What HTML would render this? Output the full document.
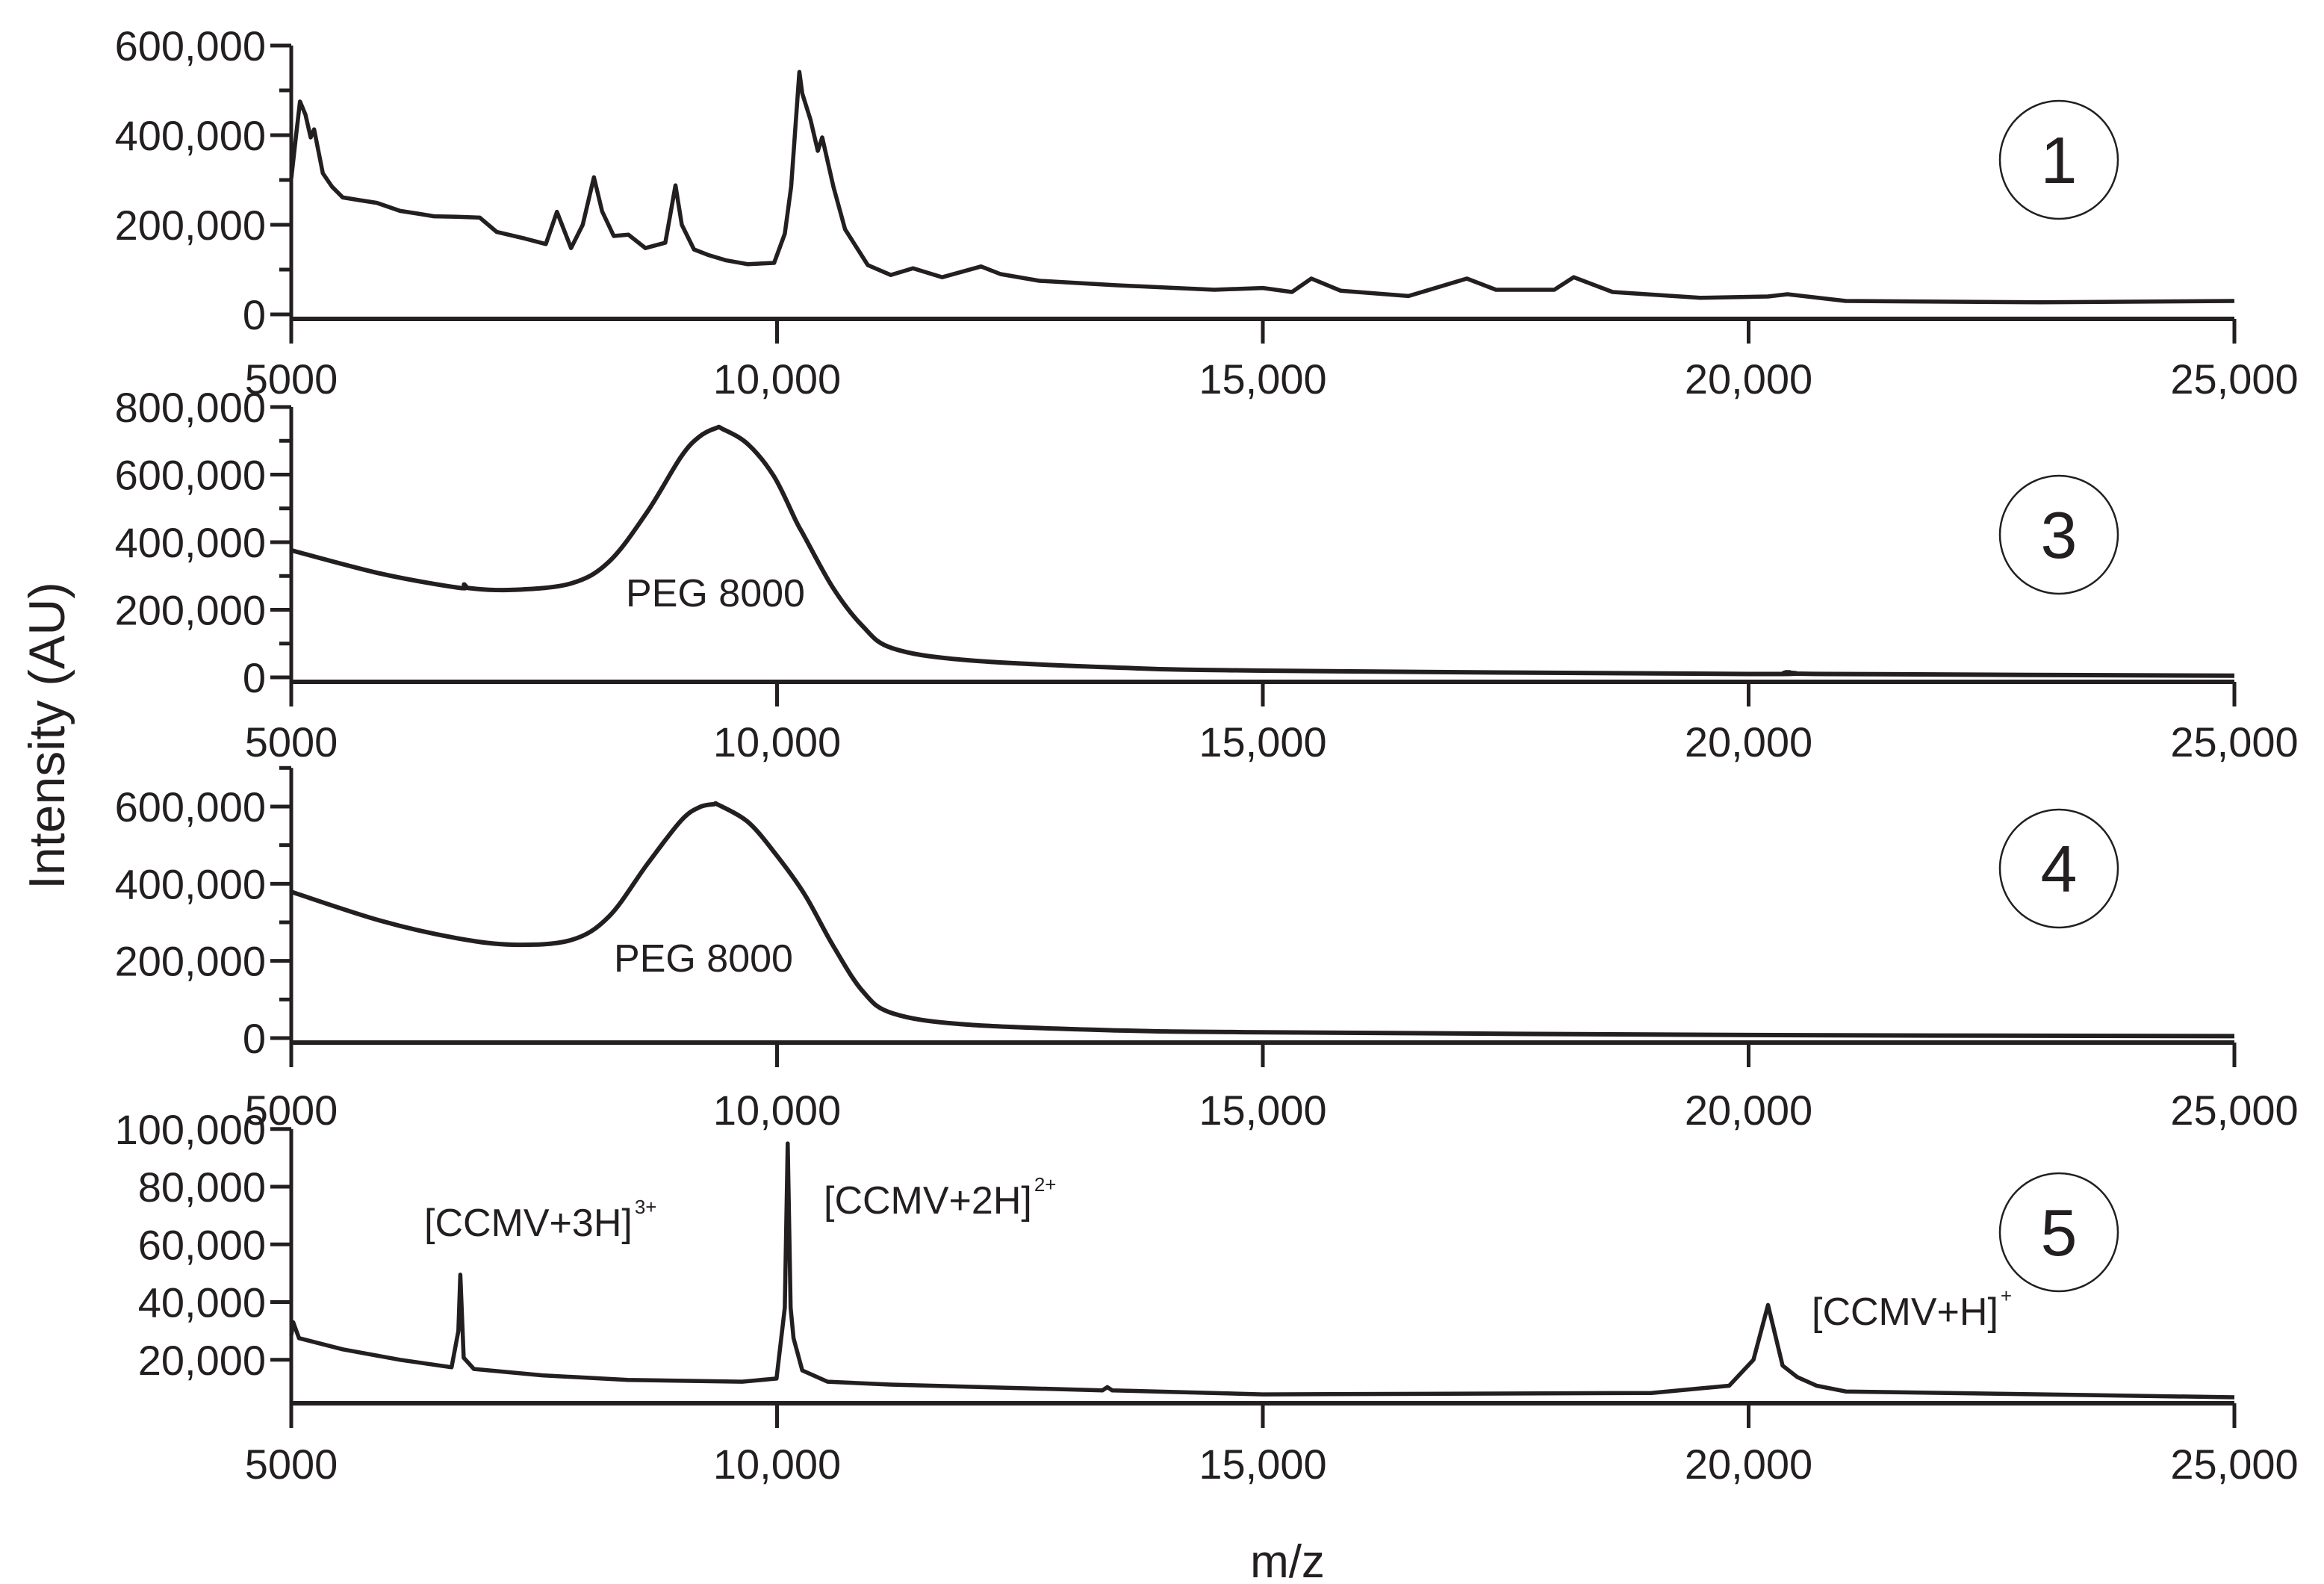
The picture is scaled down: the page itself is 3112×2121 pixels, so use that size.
<!DOCTYPE html>
<html><head><meta charset="utf-8"><style>
html,body{margin:0;padding:0;background:#fff;}
svg{display:block;}
text{font-family:"Liberation Sans",sans-serif;fill:#231f20;}
</style></head><body>
<svg id="chart" width="3112" height="2121" viewBox="0 0 3112 2121" xmlns="http://www.w3.org/2000/svg">
<g id="root"></g>
</svg>
<script>
// x axis (shared)
const xTicks = [5000, 10000, 15000, 20000, 25000];
const xTickLabels = ["5000", "10,000", "15,000", "20,000", "25,000"];

// Panel 1
const p1Mz = [5000,5050,5090,5146,5200,5235,5325,5420,5530,5700,5880,6120,6300,6470,6700,6940,7115,7410,7620,7735,7880,8000,8115,8200,8320,8470,8645,8850,8955,9020,9145,9300,9470,9700,9970,10080,10145,10230,10260,10345,10420,10465,10580,10700,10935,11170,11400,11700,12100,12300,12700,13500,14500,15000,15300,15500,15800,16500,17100,17400,18000,18200,18600,19500,20200,20400,21000,23000,25000];
const p1Val = [303,400,475,446,395,413,315,285,261,255,249,231,225,219,218,216,184,169,157,229,148,200,306,230,175,178,148,160,288,200,145,132,121,112,115,180,285,541,493,434,365,395,285,190,110,88,103,83,107,90,75,65,55,59,50,80,53,41,80,55,55,83,50,37,40,45,30,27,30];
const p1YTicks = [0,200000,400000,600000];
const p1YLabels = ["0","200,000","400,000","600,000"];

// Panel 3
const p3Mz = [5000,5920,6730,6780,6830,7290,7880,8270,8665,9010,9200,9375,9440,9700,9970,10200,10280,10580,10880,11190,11950,13490,15000,20000,20400,20800,25000];
const p3Val = [376,307,265,275,264,259,278,342,490,652,712,738,735,690,594,460,418,263,152,86,51,29,20,10,15,10,5];
const p3YTicks = [0,200000,400000,600000,800000];
const p3YLabels = ["0","200,000","400,000","600,000","800,000"];

// Panel 4
const p4Mz = [5000,5920,6700,7290,7880,8270,8665,9010,9200,9350,9400,9700,9970,10280,10580,10880,11190,11950,13500,15000,20000,25000];
const p4Val = [379,304,259,242,254,315,451,563,598,606,604,560,482,374,238,122,64,35,20,15,8,5];
const p4YTicks = [0,200000,400000,600000];
const p4YLabels = ["0","200,000","400,000","600,000"];

// Panel 5
const p5Mz = [5000,5020,5080,5530,6120,6650,6720,6740,6775,6880,7585,8465,9640,9995,10080,10110,10140,10170,10260,10520,11170,13350,13400,13450,15000,19000,19800,20050,20200,20350,20500,20700,21000,25000];
const p5Val = [28.5,33,27.5,23.6,20,17.4,30,49.5,20.7,16.8,14.6,13,12.4,13.5,38,95,38,27.5,16.3,12.4,11.4,9.4,10.5,9.4,8,8.5,11,20,39,18,14,11,9,7];
const p5YTicks = [20000,40000,60000,80000,100000];
const p5YLabels = ["20,000","40,000","60,000","80,000","100,000"];

const X0 = 390, X1 = 2992;
function xScale(mz){ return X0 + (mz-5000)/(20000)*(X1-X0); }

const NS = "http://www.w3.org/2000/svg";
const root = document.getElementById('root');
function mk(tag, attrs, parent){
  const e = document.createElementNS(NS, tag);
  for (const k in attrs) e.setAttribute(k, attrs[k]);
  (parent||root).appendChild(e);
  return e;
}
function smoothPath(P){
  let d = 'M'+P[0][0].toFixed(1)+','+P[0][1].toFixed(1);
  for (let i=0;i<P.length-1;i++){
    const p0=P[i-1]||P[i], p1=P[i], p2=P[i+1], p3=P[i+2]||P[i+1];
    const t=1/6;
    const c1=[p1[0]+(p2[0]-p0[0])*t, p1[1]+(p2[1]-p0[1])*t];
    const c2=[p2[0]-(p3[0]-p1[0])*t, p2[1]-(p3[1]-p1[1])*t];
    d+=' C'+c1[0].toFixed(1)+','+c1[1].toFixed(1)+' '+c2[0].toFixed(1)+','+c2[1].toFixed(1)+' '+p2[0].toFixed(1)+','+p2[1].toFixed(1);
  }
  return d;
}

const panels = [
  {name:'panel-1', mz:p1Mz, val:p1Val, yTicks:p1YTicks, yLabels:p1YLabels, zeroY:421, pxPerUnit:0.6, axisY:427, topVal:600000, minor:100000, xlabY:527, circ:[2757,214,'1'], smooth:false},
  {name:'panel-3', mz:p3Mz, val:p3Val, yTicks:p3YTicks, yLabels:p3YLabels, zeroY:907, pxPerUnit:0.4525, axisY:913, topVal:800000, minor:100000, xlabY:1013, circ:[2757,716,'3'], smooth:true},
  {name:'panel-4', mz:p4Mz, val:p4Val, yTicks:p4YTicks, yLabels:p4YLabels, zeroY:1390, pxPerUnit:0.5167, axisY:1396, topVal:700000, minor:100000, xlabY:1506, circ:[2757,1163,'4'], smooth:true},
  {name:'panel-5', mz:p5Mz, val:p5Val, yTicks:p5YTicks, yLabels:p5YLabels, zeroY:1898, pxPerUnit:3.8625, axisY:1879, topVal:100000, minor:0, xlabY:1980, circ:[2757,1650,'5'], smooth:false}
];

panels.forEach(p=>{
  const g = mk('g',{});
  
  
  const yS = v => p.zeroY - (v/1000)*p.pxPerUnit;
  const ya = mk('line',{x1:X0,x2:X0,y1:yS(p.topVal),y2:p.axisY+30,stroke:'#231f20','stroke-width':5},g);
  
  
  const xa = mk('line',{x1:X0,x2:X1,y1:p.axisY,y2:p.axisY,stroke:'#231f20','stroke-width':6},g);
  
  
  if (p.minor){
    for (let v=p.minor; v<=p.topVal; v+=2*p.minor){
      mk('line',{x1:X0-16,x2:X0,y1:yS(v),y2:yS(v),stroke:'#231f20','stroke-width':5},g);
    }
  }
  p.yTicks.forEach((v,i)=>{
    const y = yS(v);
    mk('line',{x1:X0-28,x2:X0,y1:y,y2:y,stroke:'#231f20','stroke-width':5},g);
    const t = mk('text',{x:X0-34,y:y+20,'font-size':56,'text-anchor':'end'},g);
    t.textContent = p.yLabels[i];
    
    
  });
  xTicks.forEach((m,i)=>{
    const x = xScale(m);
    mk('line',{x1:x,x2:x,y1:p.axisY,y2:p.axisY+33,stroke:'#231f20','stroke-width':5},g);
    const t = mk('text',{x:x,y:p.xlabY,'font-size':56,'text-anchor':'middle'},g);
    t.textContent = xTickLabels[i];
    
    
  });
  const P = p.mz.map((m,i)=>[xScale(m), yS(p.val[i]*1000)]);
  let line;
  if (p.smooth){
    line = mk('path',{d:smoothPath(P),fill:'none',stroke:'#231f20','stroke-width':6,'stroke-linejoin':'round'},g);
  } else {
    line = mk('polyline',{points:P.map(q=>q[0].toFixed(1)+','+q[1].toFixed(1)).join(' '),fill:'none',stroke:'#231f20','stroke-width':5.5,'stroke-linejoin':'round'},g);
  }
  
  
  const c = mk('circle',{cx:p.circ[0],cy:p.circ[1],r:79,fill:'none',stroke:'#231f20','stroke-width':2.5},g);
  
  
  const ct = mk('text',{x:p.circ[0],y:p.circ[1]+31,'font-size':88,'text-anchor':'middle'},g);
  ct.textContent = p.circ[2];
  
  
});
</script>
<script>
(function(){
  const s = document.getElementById('chart');
  const NS = "http://www.w3.org/2000/svg";
  function txt(x,y,size,str,name,anchor,sup){
    const t = document.createElementNS(NS,'text');
    t.setAttribute('x',x); t.setAttribute('y',y);
    t.setAttribute('font-size',size);
    if(anchor) t.setAttribute('text-anchor',anchor);
    t.appendChild(document.createTextNode(str));
    if (sup){
      const ts = document.createElementNS(NS,'tspan');
      ts.setAttribute('font-size', 26);
      ts.setAttribute('dy', -30);
      ts.setAttribute('dx', 3);
      ts.textContent = sup;
      t.appendChild(ts);
    }
    
    
    s.appendChild(t); return t;
  }
  txt(958,812,52,'PEG 8000','peg-8000-label-panel-3','middle');
  txt(942,1301,52,'PEG 8000','peg-8000-label-panel-4','middle');
  txt(568,1655,52,'[CCMV+3H]','ccmv-3h-label',null,'3+');
  txt(1103,1625,52,'[CCMV+2H]','ccmv-2h-label',null,'2+');
  txt(2426,1774,52,'[CCMV+H]','ccmv-h-label',null,'+');
  txt(1724,2112,62,'m/z','x-axis-title','middle');
  const yt = txt(0,0,68,'Intensity (AU)','y-axis-title','middle');
  yt.setAttribute('transform','translate(86,985) rotate(-90)');
})();
</script>
</body></html>
